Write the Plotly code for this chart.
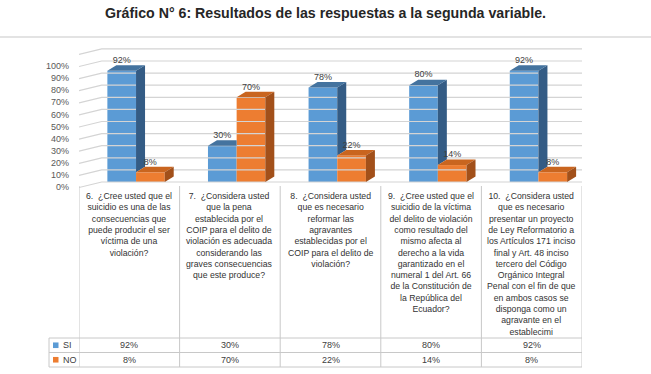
import plotly.graph_objects as go

# ---------------- data ----------------
title_text = "Gráfico N° 6: Resultados de las respuestas a la segunda variable."
series_names = ["SI", "NO"]
questions = [
    "6.  ¿Cree usted que el<br>suicidio es una de las<br>consecuencias que<br>puede producir el ser<br>víctima de una<br>violación?",
    "7.  ¿Considera usted<br>que la pena<br>establecida por el<br>COIP para el delito de<br>violación es adecuada<br>considerando las<br>graves consecuencias<br>que este produce?",
    "8.  ¿Considera usted<br>que es necesario<br>reformar las<br>agravantes<br>establecidas por el<br>COIP para el delito de<br>violación?",
    "9.  ¿Cree usted que el<br>suicidio de la víctima<br>del delito de violación<br>como resultado del<br>mismo afecta al<br>derecho a la vida<br>garantizado en el<br>numeral 1 del Art. 66<br>de la Constitución de<br>la República del<br>Ecuador?",
    "10.  ¿Considera usted<br>que es necesario<br>presentar un proyecto<br>de Ley Reformatorio a<br>los Artículos 171 inciso<br>final y Art. 48 inciso<br>tercero del Código<br>Orgánico Integral<br>Penal con el fin de que<br>en ambos casos se<br>disponga como un<br>agravante en el<br>establecimi",
]
si_values = [92, 30, 78, 80, 92]
no_values = [8, 70, 22, 14, 8]
y_ticks = [0, 10, 20, 30, 40, 50, 60, 70, 80, 90, 100]
wall_top = 110

# ---------------- styling / geometry ----------------
W, H = 651, 374
def px(x): return x / W
def py(y): return 1 - y / H

PX_PER_PCT = 1.21           # vertical pixels per percent
Y0_PIX = 182                # pixel row of 0 % on the back wall
PLOT_TOP, PLOT_BOT = 40, 195
y_range = [(Y0_PIX - PLOT_BOT) / PX_PER_PCT, (Y0_PIX - PLOT_TOP) / PX_PER_PCT]
label_shift = 5.0 / PX_PER_PCT      # front plane lies a few pixels lower
slant_shift = 5.5 / PX_PER_PCT

X_LEFT, X_RIGHT = 79, 582   # table columns
PX_PER_CAT = (X_RIGHT - X_LEFT) / 5
wall_x0 = (101.7 - X_LEFT) / PX_PER_CAT - 0.5
wall_x1 = (606.7 - X_LEFT) / PX_PER_CAT - 0.5

bar_w = 0.285
off_si = -0.218
off_no = off_si + bar_w
dx = 9 / PX_PER_CAT
dy = 5.5 / PX_PER_PCT

blue_front, blue_top, blue_side = "#5B9BD5", "#44739F", "#345C85"
orange_front, orange_top, orange_side = "#ED7D31", "#C9651F", "#A2501A"
grid_col = "#D4D4D4"
txt_col = "#404040"
FONT = "Liberation Sans, Arial, sans-serif"

fig = go.Figure()

# ---------------- back wall and side wall grid ----------------
gx, gy = [], []
for t in y_ticks + [wall_top]:
    gx += [-0.5, wall_x0, wall_x1, None]
    gy += [t - slant_shift, t, t, None]
fig.add_trace(go.Scatter(x=gx, y=gy, mode="lines", line=dict(color=grid_col, width=1.2),
                         hoverinfo="skip", showlegend=False))

# ---------------- bar fronts ----------------
xs = list(range(len(si_values)))
fig.add_trace(go.Bar(x=xs, y=si_values, name=series_names[0], offset=off_si, width=bar_w,
                     marker=dict(color=blue_front, line=dict(width=0)), hoverinfo="skip"))
fig.add_trace(go.Bar(x=xs, y=no_values, name=series_names[1], offset=off_no, width=bar_w,
                     marker=dict(color=orange_front, line=dict(width=0)), hoverinfo="skip"))

# ---------------- 3D faces derived from values ----------------
bs_x, bs_y, bt_x, bt_y, ot_x, ot_y, os_x, os_y = [], [], [], [], [], [], [], []
for i, (vb, vo) in enumerate(zip(si_values, no_values)):
    x0 = i + off_si
    x1 = x0 + bar_w
    x2 = x1 + bar_w
    if vb > vo:
        bs_x += [x1, x1, x1 + dx, x1 + dx, x1, None]
        bs_y += [vo, vb, vb + dy, vo + dy, vo, None]
        bt_x += [x0, x1, x1 + dx, x0 + dx, x0, None]
        bt_y += [vb, vb, vb + dy, vb + dy, vb, None]
    else:
        bt_x += [x0, x1, x1, x0 + dx, x0, None]
        bt_y += [vb, vb, vb + dy, vb + dy, vb, None]
    ot_x += [x1, x2, x2 + dx, x1 + dx, x1, None]
    ot_y += [vo, vo, vo + dy, vo + dy, vo, None]
    os_x += [x2, x2, x2 + dx, x2 + dx, x2, None]
    os_y += [0, vo, vo + dy, dy, 0, None]

for fx, fy, col in [(bs_x, bs_y, blue_side), (bt_x, bt_y, blue_top),
                    (ot_x, ot_y, orange_top), (os_x, os_y, orange_side)]:
    fig.add_trace(go.Scatter(x=fx, y=fy, mode="lines", fill="toself", fillcolor=col,
                             line=dict(width=0, color=col), hoverinfo="skip", showlegend=False))

# ---------------- data labels ----------------
fig.add_trace(go.Scatter(x=[i + off_si + bar_w / 2 for i in xs], y=[v + dy for v in si_values],
                         mode="text", text=[f"{v}%" for v in si_values], textposition="top center",
                         textfont=dict(size=9, color=txt_col, family=FONT),
                         hoverinfo="skip", showlegend=False, cliponaxis=False))
fig.add_trace(go.Scatter(x=[i + off_no + bar_w / 2 for i in xs], y=[v + dy for v in no_values],
                         mode="text", text=[f"{v}%" for v in no_values], textposition="top center",
                         textfont=dict(size=9, color=txt_col, family=FONT),
                         hoverinfo="skip", showlegend=False, cliponaxis=False))

# invisible trace carrying the front-plane value axis
fig.add_trace(go.Scatter(x=[None], y=[None], yaxis="y2", mode="markers",
                         hoverinfo="skip", showlegend=False))

# ---------------- data table ----------------
shapes = []
TBL_TOP, ROW1, ROW2, TBL_BOT, TBL_LEFT = 186, 338, 352.5, 367, 49
tbl_line = "#C8C8C8"
for k in range(len(xs) + 1):
    shapes.append(dict(type="line", xref="x", yref="paper", x0=k - 0.5, x1=k - 0.5,
                       y0=py(TBL_TOP), y1=py(TBL_BOT), line=dict(color=tbl_line, width=1)))
for yy in [ROW1, ROW2, TBL_BOT]:
    shapes.append(dict(type="line", xref="paper", yref="paper", x0=px(TBL_LEFT), x1=px(X_RIGHT),
                       y0=py(yy), y1=py(yy), line=dict(color=tbl_line, width=1)))
shapes.append(dict(type="line", xref="paper", yref="paper", x0=px(TBL_LEFT), x1=px(TBL_LEFT),
                   y0=py(ROW1), y1=py(TBL_BOT), line=dict(color=tbl_line, width=1)))
shapes.append(dict(type="line", xref="paper", yref="paper", x0=0, x1=1, y0=py(37), y1=py(37),
                   line=dict(color="#DADADA", width=1.5)))
for yy, col in [((ROW1 + ROW2) / 2, blue_front), ((ROW2 + TBL_BOT) / 2, orange_front)]:
    shapes.append(dict(type="rect", xref="paper", yref="paper", x0=px(53), x1=px(58.5),
                       y0=py(yy + 2.8), y1=py(yy - 2.8), fillcolor=col, line=dict(width=0)))

annotations = []
for i, q in enumerate(questions):
    annotations.append(dict(x=i, xref="x", y=py(189), yref="paper", text=q, showarrow=False,
                            xanchor="center", yanchor="top", align="center",
                            font=dict(size=8.7, color="#333333", family=FONT)))
for row_y, vals, name in [((ROW1 + ROW2) / 2, si_values, series_names[0]),
                          ((ROW2 + TBL_BOT) / 2, no_values, series_names[1])]:
    for i, v in enumerate(vals):
        annotations.append(dict(x=i, xref="x", y=py(row_y), yref="paper", text=f"{v}%",
                                showarrow=False, xanchor="center", yanchor="middle",
                                font=dict(size=9, color=txt_col, family=FONT)))
    annotations.append(dict(x=px(60.5), xref="paper", y=py(row_y), yref="paper", text=name,
                            showarrow=False, xanchor="left", yanchor="middle",
                            font=dict(size=9, color=txt_col, family=FONT)))

fig.update_layout(
    width=W, height=H,
    margin=dict(l=0, r=0, t=0, b=0),
    paper_bgcolor="white", plot_bgcolor="rgba(0,0,0,0)",
    barmode="overlay", showlegend=False,
    title=dict(text=f"<b>{title_text}</b>", x=0.5, xanchor="center", xref="paper",
               y=py(13.5), yref="container", yanchor="middle",
               font=dict(size=14.2, color="#262626", family=FONT)),
    xaxis=dict(domain=[px(X_LEFT), px(X_RIGHT)], range=[-0.5, 4.5], showgrid=False,
               zeroline=False, showticklabels=False, showline=False, fixedrange=True),
    yaxis=dict(domain=[py(PLOT_BOT), py(PLOT_TOP)], range=y_range, showgrid=False,
               zeroline=False, showticklabels=False, showline=False, fixedrange=True),
    yaxis2=dict(overlaying="y", anchor="x", side="left",
                range=[y_range[0] + label_shift, y_range[1] + label_shift],
                tickvals=y_ticks, ticktext=[f"{t}%" for t in y_ticks],
                showgrid=False, zeroline=False, showline=False, ticks="",
                ticklabelstandoff=9,
                tickfont=dict(size=9, color="#595959", family=FONT), fixedrange=True),
    shapes=shapes, annotations=annotations,
)

fig.write_html("out.html")
